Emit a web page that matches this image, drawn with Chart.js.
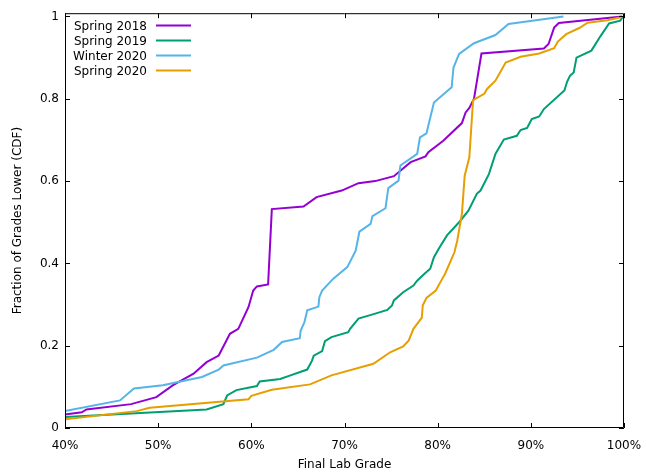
<!DOCTYPE html>
<html>
<head>
<meta charset="utf-8">
<script src="https://cdn.jsdelivr.net/npm/chart.js@4"></script>
<style>
  html, body { margin: 0; padding: 0; background: #fff; }
  #wrap { width: 646px; height: 472px; }
</style>
</head>
<body>
<div id="wrap"><canvas id="myChart" width="646" height="472"></canvas></div>
<script>
// series labels and colours
const seriesNames = ['Spring 2018', 'Spring 2019', 'Winter 2020', 'Spring 2020'];
const seriesColors = ['#9400d3', '#009e73', '#56b4e9', '#e69f00'];

// tick values / labels
const xTickValues = [40, 50, 60, 70, 80, 90, 100];
const xTickLabels = ['40%', '50%', '60%', '70%', '80%', '90%', '100%'];
const yTickValues = [0, 0.2, 0.4, 0.6, 0.8, 1];
const yTickLabels = ['0', '0.2', '0.4', '0.6', '0.8', '1'];

// Spring 2018
const s2018Grade = [40, 41.8, 42.3, 47.1, 49.8, 51.6, 53.8, 55.2, 56.5, 57.7, 58.6, 59.7, 60.2, 60.6, 61.8, 62.2, 65.6, 67.0, 69.7, 71.5, 73.3, 75.3, 77.1, 78.7, 79.0, 80.6, 82.6, 83.0, 83.4, 83.9, 84.7, 91.4, 91.9, 92.5, 93.0, 99.8];
const s2018Frac = [0.033, 0.038, 0.045, 0.058, 0.075, 0.104, 0.132, 0.160, 0.176, 0.229, 0.241, 0.294, 0.334, 0.344, 0.349, 0.532, 0.538, 0.561, 0.577, 0.595, 0.600, 0.612, 0.646, 0.660, 0.670, 0.698, 0.741, 0.767, 0.778, 0.800, 0.910, 0.922, 0.933, 0.973, 0.984, 1.0];

// Spring 2019
const s2019Grade = [40, 55.2, 57.0, 57.4, 58.4, 60.6, 60.9, 63.1, 64.2, 66.0, 66.5, 66.7, 67.6, 67.9, 68.6, 70.4, 70.6, 71.5, 73.3, 74.6, 75.1, 75.3, 76.3, 77.4, 77.8, 78.5, 79.2, 79.6, 80.1, 81.0, 82.3, 83.3, 84.2, 84.6, 85.5, 86.2, 87.1, 88.5, 88.9, 89.6, 90.1, 90.9, 91.4, 93.6, 93.9, 94.2, 94.6, 94.9, 96.5, 97.5, 98.4, 99.6, 99.9];
const s2019Frac = [0.027, 0.045, 0.058, 0.079, 0.092, 0.102, 0.113, 0.119, 0.128, 0.142, 0.163, 0.176, 0.187, 0.211, 0.221, 0.233, 0.241, 0.266, 0.278, 0.287, 0.298, 0.310, 0.330, 0.346, 0.358, 0.373, 0.387, 0.415, 0.435, 0.468, 0.500, 0.528, 0.569, 0.577, 0.617, 0.666, 0.701, 0.710, 0.724, 0.729, 0.751, 0.757, 0.775, 0.820, 0.842, 0.856, 0.864, 0.900, 0.917, 0.953, 0.983, 0.990, 1.0];

// Winter 2020
const w2020Grade = [40, 45.9, 47.4, 50.5, 54.7, 56.5, 57.0, 60.6, 62.4, 63.3, 65.2, 65.3, 65.7, 66.0, 67.2, 67.3, 67.6, 68.8, 70.3, 71.2, 71.6, 72.8, 73.0, 74.4, 74.7, 75.8, 76.0, 77.8, 78.1, 78.8, 79.0, 79.6, 81.5, 81.7, 82.3, 83.9, 86.2, 87.6, 93.5];
const w2020Frac = [0.041, 0.067, 0.096, 0.104, 0.124, 0.142, 0.152, 0.171, 0.190, 0.209, 0.218, 0.237, 0.257, 0.286, 0.295, 0.318, 0.334, 0.363, 0.391, 0.431, 0.477, 0.496, 0.515, 0.534, 0.583, 0.601, 0.638, 0.666, 0.706, 0.716, 0.735, 0.791, 0.828, 0.876, 0.909, 0.935, 0.955, 0.982, 1.0];

// Spring 2020
const s2020Grade = [40, 47.7, 49.1, 59.7, 60.0, 62.2, 66.3, 68.6, 73.1, 74.9, 76.3, 76.9, 77.4, 78.3, 78.4, 78.8, 79.8, 80.5, 80.8, 81.8, 82.1, 82.6, 82.9, 83.4, 83.8, 85.0, 85.3, 86.2, 87.3, 88.9, 90.9, 92.5, 92.9, 93.8, 95.2, 96.1, 98.2, 99.8];
const s2020Frac = [0.021, 0.041, 0.049, 0.070, 0.078, 0.093, 0.106, 0.128, 0.156, 0.184, 0.198, 0.213, 0.241, 0.268, 0.298, 0.316, 0.334, 0.363, 0.375, 0.427, 0.455, 0.520, 0.613, 0.658, 0.797, 0.812, 0.824, 0.844, 0.888, 0.902, 0.910, 0.923, 0.939, 0.957, 0.972, 0.985, 0.991, 0.999];

const allGrades = [s2018Grade, s2019Grade, w2020Grade, s2020Grade];
const allFracs = [s2018Frac, s2019Frac, w2020Frac, s2020Frac];

Chart.defaults.font.family = '"DejaVu Sans", sans-serif';
Chart.defaults.font.size = 12;
Chart.defaults.color = '#000';

const toPoints = (xs, ys) => xs.map((x, i) => ({ x: x, y: ys[i] }));

const datasets = seriesNames.map((name, i) => ({
    label: name,
    data: toPoints(allGrades[i], allFracs[i]),
    borderColor: seriesColors[i],
    backgroundColor: seriesColors[i],
    borderWidth: 2,
    pointRadius: 0,
    tension: 0,
    fill: false,
    order: seriesNames.length - i   // later series on top, like gnuplot
}));

// box round the plot with inward ticks on all four sides
const frame = {
    id: 'frame',
    afterDatasetsDraw(chart) {
        const { ctx, chartArea: a, scales: { x, y } } = chart;
        const tl = 5;
        ctx.save();
        ctx.strokeStyle = '#000';
        ctx.lineWidth = 1;
        ctx.beginPath();
        ctx.rect(a.left + 0.5, a.top + 0.5, a.right - a.left - 1, a.bottom - a.top - 1);
        xTickValues.forEach(v => {
            const px = Math.round(x.getPixelForValue(v)) + 0.5;
            ctx.moveTo(px, a.bottom); ctx.lineTo(px, a.bottom - tl);
            ctx.moveTo(px, a.top); ctx.lineTo(px, a.top + tl);
        });
        yTickValues.forEach(v => {
            const py = Math.round(y.getPixelForValue(v)) + 0.5;
            ctx.moveTo(a.left, py); ctx.lineTo(a.left + tl, py);
            ctx.moveTo(a.right, py); ctx.lineTo(a.right - tl, py);
        });
        ctx.stroke();
        ctx.restore();
    }
};

// gnuplot style key: text right aligned, line sample after it
const key = {
    id: 'key',
    afterDraw(chart) {
        const { ctx } = chart;
        ctx.save();
        ctx.font = '12px "DejaVu Sans", sans-serif';
        ctx.textAlign = 'right';
        ctx.textBaseline = 'middle';
        chart.data.datasets.forEach((ds, i) => {
            const ty = 25.5 + i * 15;
            ctx.fillStyle = '#000';
            ctx.fillText(ds.label, 147, ty + 1);
            ctx.strokeStyle = ds.borderColor;
            ctx.lineWidth = 2;
            ctx.beginPath();
            ctx.moveTo(156, ty);
            ctx.lineTo(191, ty);
            ctx.stroke();
        });
        ctx.restore();
    }
};

const ctx = document.getElementById('myChart').getContext('2d');
const myChart = new Chart(ctx, {
    type: 'line',
    data: { datasets: datasets },
    options: {
        responsive: false,
        animation: false,
        layout: { padding: { top: 12, right: 22, left: 0, bottom: 0 } },
        plugins: {
            legend: { display: false },
            tooltip: { enabled: false }
        },
        scales: {
            x: {
                type: 'linear',
                min: 40,
                max: 100,
                grid: { display: false, drawTicks: false },
                border: { display: false },
                afterBuildTicks: s => { s.ticks = xTickValues.map(v => ({ value: v })); },
                afterFit: s => {
                    s.height = 44;
                    s.paddingLeft = 0;
                    s.paddingRight = 0;
                },
                ticks: {
                    padding: 11,
                    maxRotation: 0,
                    callback: (v, i) => xTickLabels[i]
                },
                title: {
                    display: true,
                    text: 'Final Lab Grade',
                    padding: { top: 0, bottom: 0 }
                }
            },
            y: {
                type: 'linear',
                min: 0,
                max: 1.008,
                grid: { display: false, drawTicks: false },
                border: { display: false },
                afterBuildTicks: s => { s.ticks = yTickValues.map(v => ({ value: v })); },
                afterFit: s => { s.width = 65; },
                ticks: {
                    padding: 6,
                    callback: (v, i) => yTickLabels[i]
                },
                title: {
                    display: true,
                    text: 'Fraction of Grades Lower (CDF)',
                    padding: { top: 11, bottom: 0 }
                }
            }
        }
    },
    plugins: [frame, key]
});
</script>
</body>
</html>
